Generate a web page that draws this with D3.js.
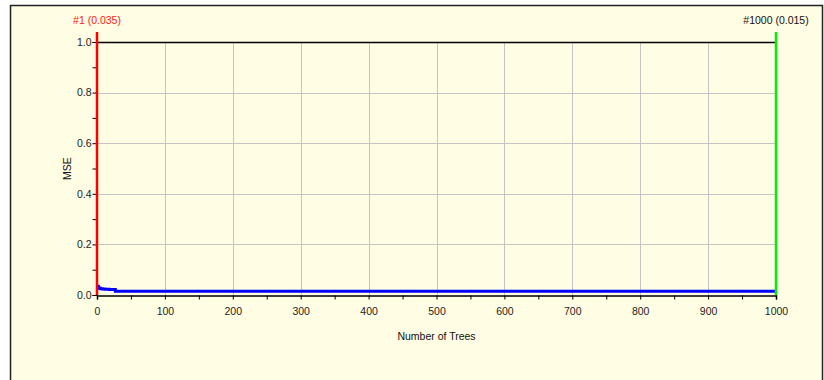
<!DOCTYPE html>
<html>
<head>
<meta charset="utf-8">
<script src="https://cdn.jsdelivr.net/npm/d3@7"></script>
<style>
  body { margin: 0; background: #ffffff; }
  svg { display: block; font-family: "Liberation Sans", Arial, sans-serif; }
</style>
</head>
<body>
<svg id="chart" width="824" height="380"></svg>
<script>
// data
var trees = [1, 2, 3, 5, 8, 12, 18, 26, 27, 1000];
var mse = [0.035, 0.03, 0.027, 0.025, 0.024, 0.023, 0.022, 0.022, 0.015, 0.015];
var xTicks = [0, 100, 200, 300, 400, 500, 600, 700, 800, 900, 1000];
var yTicks = [0, 0.2, 0.4, 0.6, 0.8, 1.0];
var first = { tree: 1, value: 0.035 };
var last = { tree: 1000, value: 0.015 };

var svg = d3.select("#chart");
var margin = { left: 97, right: 48, top: 42, bottom: 85 };
var W = 824, H = 380;
var fs = 10.5;

var x = d3.scaleLinear().domain([0, 1000]).range([margin.left, W - margin.right]);
var y = d3.scaleLinear().domain([0, 1]).range([H - margin.bottom, margin.top]);

// outer frame
svg.append("rect").attr("x", 10.5).attr("y", 5.5).attr("width", 812).attr("height", 390)
  .attr("fill", "#fffde3").attr("stroke", "#222").attr("stroke-width", 1.5);

// grid
svg.append("g").selectAll("line").data(xTicks.slice(1, -1)).enter().append("line")
  .attr("x1", d => Math.round(x(d)) + 0.5).attr("x2", d => Math.round(x(d)) + 0.5)
  .attr("y1", y(1)).attr("y2", y(0)).attr("stroke", "#c4c4c4");
svg.append("g").selectAll("line").data(yTicks.slice(1, -1)).enter().append("line")
  .attr("y1", d => Math.round(y(d)) + 0.5).attr("y2", d => Math.round(y(d)) + 0.5)
  .attr("x1", x(0)).attr("x2", x(1000)).attr("stroke", "#c4c4c4");

// top border of plot
svg.append("line").attr("x1", x(0)).attr("x2", x(1000))
  .attr("y1", y(1) + 0.5).attr("y2", y(1) + 0.5).attr("stroke", "#000").attr("stroke-width", 1.5);

// axes
var xAxis = d3.axisBottom(x).tickValues(d3.range(0, 1001, 50)).tickSize(4)
  .tickFormat(d => d % 100 === 0 ? d : "");
var gx = svg.append("g").attr("transform", "translate(0," + (y(0) + 0.5) + ")").call(xAxis);
gx.select(".domain").attr("stroke-width", 1.5);
gx.selectAll("text").attr("dy", 12).attr("font-size", fs).attr("fill", "#222");

var yAxis = d3.axisLeft(y).tickValues(d3.range(0, 1.01, 0.1)).tickSize(4)
  .tickFormat(d => Math.round(d * 10) % 2 === 0 ? d3.format(".1f")(d) : "");
var gy = svg.append("g").attr("transform", "translate(" + (x(0) - 0.5) + ",0)").call(yAxis);
gy.selectAll("text").attr("font-size", fs).attr("fill", "#222").attr("dx", 2);
gy.selectAll("text").attr("font-family", null);
gx.selectAll("text").attr("font-family", null);
svg.selectAll(".tick line").attr("stroke", "#000");
svg.selectAll(".domain").attr("stroke", "#000");

// series
var pts = trees.map((t, i) => ({ t: t, v: mse[i] }));
var line = d3.line().x(d => x(d.t)).y(d => y(d.v)).curve(d3.curveStepAfter);
svg.append("path").datum(pts).attr("d", line)
  .attr("fill", "none").attr("stroke", "#0000ff").attr("stroke-width", 3);

// markers for first and last
svg.append("line").attr("x1", x(0)).attr("x2", x(0)).attr("y1", 32).attr("y2", y(0))
  .attr("stroke", "#ff0000").attr("stroke-width", 2.5);
svg.append("line").attr("x1", x(1000)).attr("x2", x(1000)).attr("y1", 32).attr("y2", y(0))
  .attr("stroke", "#00ee00").attr("stroke-width", 2.5);

svg.append("text").attr("x", x(0)).attr("y", 24).attr("text-anchor", "middle")
  .attr("font-size", fs).attr("fill", "#ff2020")
  .text("#" + first.tree + " (" + first.value.toFixed(3) + ")");
svg.append("text").attr("x", x(1000)).attr("y", 24).attr("text-anchor", "middle")
  .attr("font-size", fs).attr("fill", "#111")
  .text("#" + last.tree + " (" + last.value.toFixed(3) + ")");

// axis titles
svg.append("text").attr("x", (x(0) + x(1000)) / 2).attr("y", 340).attr("text-anchor", "middle")
  .attr("font-size", fs).attr("fill", "#111").text("Number of Trees");
svg.append("text").attr("transform", "translate(71," + y(0.5) + ") rotate(-90)")
  .attr("text-anchor", "middle").attr("font-size", fs).attr("fill", "#111").text("MSE");
</script>
</body>
</html>
